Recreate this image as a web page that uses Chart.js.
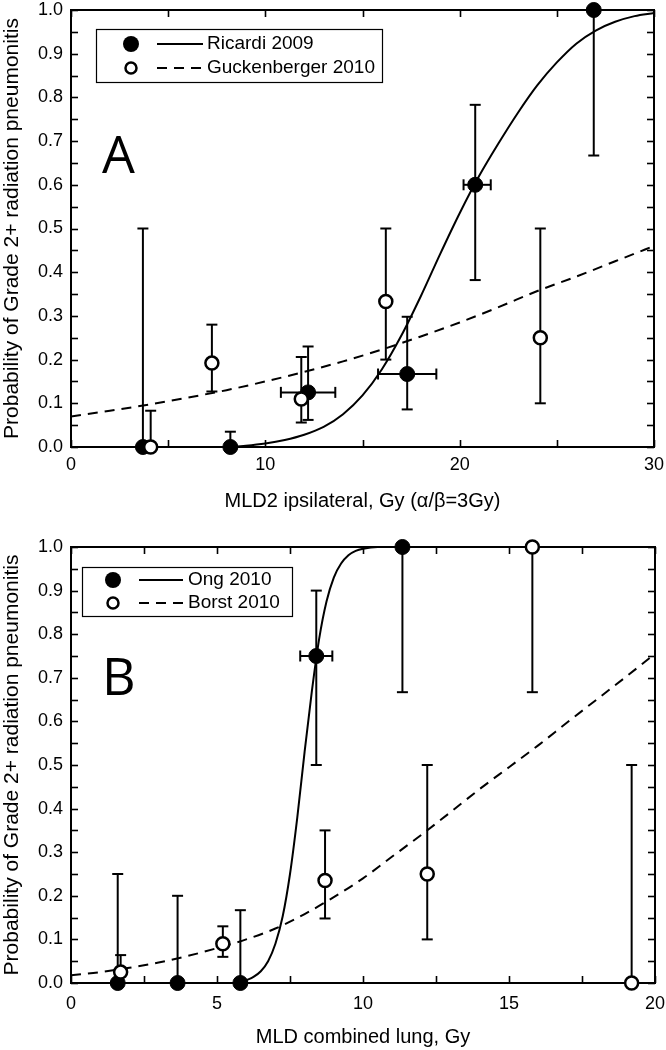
<!DOCTYPE html>
<html>
<head>
<meta charset="utf-8">
<script src="https://cdn.jsdelivr.net/npm/chart.js@4.4.1/dist/chart.umd.min.js"></script>
<style>
  body { margin: 0; background: #fff; }
  canvas { display: block; }
</style>
</head>
<body>
<canvas id="chartA" width="666" height="525"></canvas>
<canvas id="chartB" width="666" height="525"></canvas>
<script>
// ---- panel A data ----
var ricardiX = [3.7, 8.2, 12.2, 17.3, 20.8, 26.9];
var ricardiY = [0, 0, 0.125, 0.167, 0.6, 1.0];
var ricardiYLow = [0, 0, 0.062, 0.086, 0.382, 0.667];
var ricardiYHigh = [0.5, 0.035, 0.23, 0.298, 0.783, 1.0];
var ricardiXLow = [null, null, 10.8, 15.8, 20.2, null];
var ricardiXHigh = [null, null, 13.6, 18.8, 21.6, null];

var guckX = [4.1, 7.25, 11.85, 16.2, 24.15];
var guckY = [0, 0.192, 0.11, 0.333, 0.25];
var guckYLow = [0, 0.127, 0.056, 0.2, 0.1];
var guckYHigh = [0.083, 0.28, 0.206, 0.5, 0.5];

var ricardiFitX = [8, 9, 10, 11, 12, 13, 14, 15, 16, 17, 18, 19, 20, 21, 22, 23, 24, 25, 26, 27, 28, 29, 30];
var ricardiFitY = [0, 0.003, 0.008, 0.016, 0.028, 0.046, 0.075, 0.118, 0.178, 0.255, 0.345, 0.442, 0.535, 0.62, 0.695, 0.765, 0.828, 0.88, 0.923, 0.953, 0.973, 0.986, 0.993];
var guckFitX = [0, 2, 4, 6, 8, 10, 12, 14, 16, 18, 20, 22, 24, 26, 28, 30];
var guckFitY = [0.07, 0.083, 0.097, 0.113, 0.13, 0.15, 0.172, 0.196, 0.223, 0.253, 0.285, 0.32, 0.357, 0.39, 0.425, 0.46];

// ---- panel B data ----
var ongX = [1.6, 3.65, 5.8, 8.4, 11.35];
var ongY = [0, 0, 0, 0.75, 1.0];
var ongYLow = [0, 0, 0, 0.5, 0.667];
var ongYHigh = [0.25, 0.2, 0.167, 0.9, 1.0];
var ongXLow = [null, null, null, 7.85, null];
var ongXHigh = [null, null, null, 8.95, null];

var borstX = [1.7, 5.2, 8.7, 12.2, 15.8, 19.2];
var borstY = [0.025, 0.09, 0.235, 0.25, 1.0, 0];
var borstYLow = [0, 0.06, 0.148, 0.1, 0.667, 0];
var borstYHigh = [0.064, 0.13, 0.35, 0.5, 1.0, 0.5];

var ongFitX = [5.8, 6, 6.25, 6.5, 6.75, 7, 7.25, 7.5, 7.75, 8, 8.25, 8.5, 8.75, 9, 9.25, 9.5, 9.75, 10, 10.5, 20];
var ongFitY = [0, 0.006, 0.014, 0.027, 0.05, 0.09, 0.153, 0.25, 0.38, 0.53, 0.67, 0.79, 0.875, 0.93, 0.962, 0.981, 0.991, 0.996, 1, 1];
var borstFitX = [0, 1, 2, 3, 4, 5, 6, 7, 8, 9, 10, 11, 12, 13, 14, 15, 16, 17, 18, 19, 20];
var borstFitY = [0.018, 0.025, 0.035, 0.047, 0.062, 0.08, 0.1, 0.125, 0.158, 0.197, 0.24, 0.29, 0.34, 0.392, 0.445, 0.495, 0.545, 0.598, 0.65, 0.702, 0.755];

// ---- ticks ----
var xTicksA = [0, 10, 20, 30];
var xTicksB = [0, 5, 10, 15, 20];
var yTicks = [0, 0.1, 0.2, 0.3, 0.4, 0.5, 0.6, 0.7, 0.8, 0.9, 1.0];

var FONT = '"Liberation Sans", Arial, sans-serif';

function pts(xs, ys) {
  return xs.map(function (x, i) { return { x: x, y: ys[i] }; });
}

// frame with inward major/minor ticks on all four sides, then error bars
var frameAndErrors = {
  id: 'frameAndErrors',
  beforeDatasetsDraw: function (chart) {
    var ctx = chart.ctx, a = chart.chartArea;
    var xs = chart.scales.x, ys = chart.scales.y;
    ctx.save();
    ctx.strokeStyle = '#000';
    ctx.lineWidth = 2;
    ctx.strokeRect(a.left, a.top, a.right - a.left, a.bottom - a.top);
    ctx.lineWidth = 1.6;
    function seg(x1, y1, x2, y2) { ctx.beginPath(); ctx.moveTo(x1, y1); ctx.lineTo(x2, y2); ctx.stroke(); }
    var xt = xs.ticks.map(function (t) { return t.value; });
    var xstep = xt[1] - xt[0];
    for (var v = xt[0]; v <= xt[xt.length - 1] + 1e-9; v += xstep / 2) {
      var px = Math.round(xs.getPixelForValue(v)) + 0.5;
      seg(px, a.bottom, px, a.bottom - 7);
      seg(px, a.top, px, a.top + 7);
    }
    for (var w = 0; w <= 1.0001; w += 0.05) {
      var py = Math.round(ys.getPixelForValue(w)) + 0.5;
      seg(a.left, py, a.left + 7, py);
      seg(a.right, py, a.right - 7, py);
    }
    // error bars
    ctx.lineWidth = 2;
    chart.data.datasets.forEach(function (ds) {
      var e = ds.errors;
      if (!e) return;
      ds.data.forEach(function (p, i) {
        var cx = xs.getPixelForValue(p.x), cy = ys.getPixelForValue(p.y);
        var lo = ys.getPixelForValue(e.yLow[i]), hi = ys.getPixelForValue(e.yHigh[i]);
        seg(cx, lo, cx, hi);
        if (e.yHigh[i] !== p.y) seg(cx - 5.5, hi, cx + 5.5, hi);
        if (e.yLow[i] !== p.y) seg(cx - 5.5, lo, cx + 5.5, lo);
        if (e.xLow && e.xLow[i] != null) {
          var l = xs.getPixelForValue(e.xLow[i]), r = xs.getPixelForValue(e.xHigh[i]);
          seg(l, cy, r, cy);
          seg(l, cy - 5.5, l, cy + 5.5);
          seg(r, cy - 5.5, r, cy + 5.5);
        }
      });
    });
    ctx.restore();
  },
  afterDraw: function (chart, args, opts) {
    var ctx = chart.ctx;
    ctx.save();
    // panel letter
    ctx.fillStyle = '#000';
    ctx.font = '52px "Open Sans", sans-serif';
    ctx.textBaseline = 'alphabetic';
    ctx.fillText(opts.letter, opts.letterX, opts.letterY);
    // legend
    var b = opts.box;
    ctx.strokeStyle = '#000';
    ctx.lineWidth = 1.2;
    ctx.strokeRect(b[0] + 0.5, b[1] + 0.5, b[2], b[3]);
    ctx.font = '19px ' + FONT;
    ctx.textBaseline = 'middle';
    opts.rows.forEach(function (row, i) {
      var y = opts.rowY[i];
      ctx.beginPath();
      if (row.filled) {
        ctx.arc(opts.markerX, y, 8, 0, Math.PI * 2);
        ctx.fillStyle = '#000';
        ctx.fill();
      } else {
        ctx.arc(opts.markerX, y, 5.5, 0, Math.PI * 2);
        ctx.fillStyle = '#fff';
        ctx.fill();
        ctx.lineWidth = 2.5;
        ctx.stroke();
      }
      ctx.lineWidth = 2;
      ctx.setLineDash(row.dash);
      ctx.beginPath();
      ctx.moveTo(opts.lineX0, y);
      ctx.lineTo(opts.lineX1, y);
      ctx.stroke();
      ctx.setLineDash([]);
      ctx.fillStyle = '#000';
      ctx.fillText(row.label, opts.textX, y);
    });
    ctx.restore();
  }
};

function makeChart(id, cfg) {
  return new Chart(document.getElementById(id), {
    type: 'scatter',
    data: {
      datasets: [{
        label: cfg.names[1],
        data: pts(cfg.openX, cfg.openY),
        errors: { yLow: cfg.openLow, yHigh: cfg.openHigh },
        pointRadius: 6.5,
        pointBorderWidth: 2.5,
        pointBackgroundColor: '#fff',
        pointBorderColor: '#000',
        showLine: false,
        clip: false,
        order: 0
      }, {
        label: cfg.names[0],
        data: pts(cfg.filledX, cfg.filledY),
        errors: { yLow: cfg.filledLow, yHigh: cfg.filledHigh, xLow: cfg.filledXLow, xHigh: cfg.filledXHigh },
        pointRadius: 7.5,
        pointBorderWidth: 1,
        pointBackgroundColor: '#000',
        pointBorderColor: '#000',
        showLine: false,
        clip: false,
        order: 1
      }, {
        label: cfg.names[0] + ' fit',
        data: pts(cfg.solidX, cfg.solidY),
        showLine: true,
        borderColor: '#000',
        borderWidth: 2,
        pointRadius: 0,
        cubicInterpolationMode: 'monotone',
        clip: false,
        order: 2
      }, {
        label: cfg.names[1] + ' fit',
        data: pts(cfg.dashX, cfg.dashY),
        showLine: true,
        borderColor: '#000',
        borderWidth: 2,
        borderDash: [10, 7],
        pointRadius: 0,
        cubicInterpolationMode: 'monotone',
        order: 3
      }]
    },
    options: {
      responsive: false,
      devicePixelRatio: 1,
      animation: false,
      events: [],
      layout: { padding: cfg.padding },
      plugins: {
        legend: { display: false },
        tooltip: { enabled: false },
        frameAndErrors: cfg.deco
      },
      scales: {
        x: {
          type: 'linear',
          min: 0,
          max: cfg.xTicks[cfg.xTicks.length - 1],
          afterBuildTicks: function (s) { s.ticks = cfg.xTicks.map(function (v) { return { value: v }; }); },
          afterFit: function (s) { s.height = cfg.xHeight; s.paddingLeft = 0; s.paddingRight = 0; },
          grid: { display: false, drawTicks: false },
          border: { display: false },
          ticks: { color: '#000', font: { family: FONT, size: 18 }, padding: cfg.xTickPad, maxRotation: 0 },
          title: { display: true, text: cfg.xTitle, color: '#000', font: { family: FONT, size: 20 }, padding: { top: 0, bottom: cfg.xTitlePad } }
        },
        y: {
          type: 'linear',
          min: 0,
          max: 1,
          afterBuildTicks: function (s) { s.ticks = yTicks.map(function (v) { return { value: v }; }); },
          afterFit: function (s) { s.width = 71; s.paddingTop = 0; s.paddingBottom = 0; },
          grid: { display: false, drawTicks: false },
          border: { display: false },
          ticks: { color: '#000', font: { family: FONT, size: 18 }, padding: 8, callback: function (v) { return v.toFixed(1); } },
          title: { display: true, text: 'Probability of Grade 2+ radiation pneumonitis', color: '#000', font: { family: FONT, size: 21 }, padding: { top: 0, bottom: 0 } }
        }
      }
    },
    plugins: [frameAndErrors]
  });
}

makeChart('chartA', {
  names: ['Ricardi 2009', 'Guckenberger 2010'],
  filledX: ricardiX, filledY: ricardiY, filledLow: ricardiYLow, filledHigh: ricardiYHigh,
  filledXLow: ricardiXLow, filledXHigh: ricardiXHigh,
  openX: guckX, openY: guckY, openLow: guckYLow, openHigh: guckYHigh,
  solidX: ricardiFitX, solidY: ricardiFitY, dashX: guckFitX, dashY: guckFitY,
  xTicks: xTicksA,
  xTitle: 'MLD2 ipsilateral, Gy (\u03b1/\u03b2=3Gy)',
  padding: { top: 10, right: 12, bottom: 0, left: 0 },
  xHeight: 78, xTickPad: 7, xTitlePad: 12,
  deco: {
    letter: 'A', letterX: 102, letterY: 173,
    box: [96, 29, 286, 53], markerX: 131, lineX0: 157, lineX1: 203, textX: 207, rowY: [44, 68],
    rows: [{ label: 'Ricardi 2009', filled: true, dash: [] }, { label: 'Guckenberger 2010', filled: false, dash: [10, 7] }]
  }
});

makeChart('chartB', {
  names: ['Ong 2010', 'Borst 2010'],
  filledX: ongX, filledY: ongY, filledLow: ongYLow, filledHigh: ongYHigh,
  filledXLow: ongXLow, filledXHigh: ongXHigh,
  openX: borstX, openY: borstY, openLow: borstYLow, openHigh: borstYHigh,
  solidX: ongFitX, solidY: ongFitY, dashX: borstFitX, dashY: borstFitY,
  xTicks: xTicksB,
  xTitle: 'MLD combined lung, Gy',
  padding: { top: 22, right: 11, bottom: 0, left: 0 },
  xHeight: 67, xTickPad: 10, xTitlePad: 1,
  deco: {
    letter: 'B', letterX: 102, letterY: 170,
    box: [82, 42, 210, 49], markerX: 113, lineX0: 139, lineX1: 183, textX: 188, rowY: [55, 78],
    rows: [{ label: 'Ong 2010', filled: true, dash: [] }, { label: 'Borst 2010', filled: false, dash: [10, 7] }]
  }
});
</script>
</body>
</html>
